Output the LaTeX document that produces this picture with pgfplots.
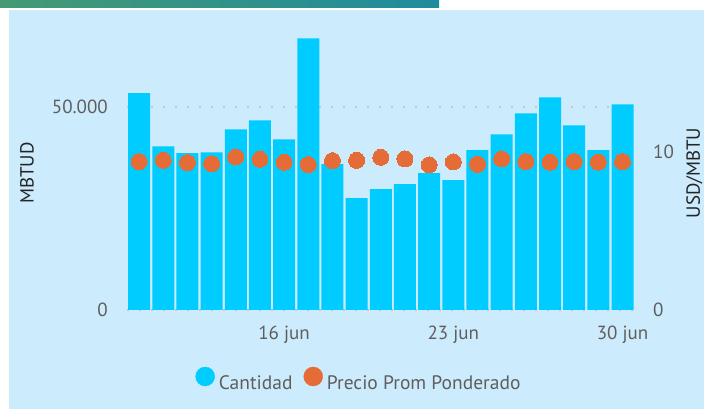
\documentclass[border=0pt]{standalone}
\usepackage{pgfplots}
\usepackage{pgfplotstable}
\pgfplotsset{compat=1.18}
\usepackage{fontspec}
\setmainfont{PT Sans}
\definecolor{panel}{HTML}{CCECFE}
\definecolor{barblue}{HTML}{00CCFF}
\definecolor{dotorange}{HTML}{E66C37}
\definecolor{tickgray}{HTML}{605E5C}
\definecolor{titledark}{HTML}{252423}
\definecolor{gridgray}{HTML}{C4C8CC}
\definecolor{gradA}{HTML}{459A73}
\definecolor{gradB}{HTML}{1F8B9D}

\pgfplotstableread{
x qty price
0 53450 9.37
1 40340 9.45
2 38620 9.31
3 38860 9.24
4 44520 9.66
5 46740 9.52
6 42060 9.33
7 66900 9.18
8 35910 9.43
9 27550 9.45
10 29760 9.64
11 30990 9.54
12 33700 9.16
13 31980 9.35
14 39360 9.20
15 43290 9.54
16 48460 9.37
17 52390 9.33
18 45510 9.37
19 39360 9.33
20 50670 9.37
}\datatable

\begin{document}
\begin{tikzpicture}
\useasboundingbox (0,0) rectangle (704pt,409pt);
\fill[white] (0,0) rectangle (704pt,409pt);
\shade[left color=gradA,right color=gradB] (0,401.5pt) rectangle (439pt,409pt);
\fill[panel] (9pt,0) rectangle (704pt,399pt);

\pgfplotsset{common/.style={at={(127pt,99pt)}, anchor=south west, scale only axis,
  width=507.6pt, height=276pt, xmin=-0.5, xmax=20.5, ymin=0, enlargelimits=false,
  major tick length=0pt, axis line style={draw=none}, scaled y ticks=false,
  tick label style={font=\fontsize{19}{22}\selectfont, text=tickgray, inner sep=0pt},
  /pgf/number format/assume math mode=true}}

\begin{axis}[common, ymax=68000, ybar, bar width=22pt,
  axis x line*=bottom, axis y line*=left,
  xtick={6,13,20}, xticklabels={16 jun,23 jun,30 jun},
  xticklabel style={anchor=base, yshift=-30pt},
  ytick={0,50000}, yticklabels={\mbox{0},\mbox{50.000}},
  yticklabel style={anchor=east, xshift=-19pt},
  ymajorgrids, grid style={gridgray, line width=2pt, dash pattern=on 2pt off 10pt}]
\addplot[fill=barblue, draw=none] table[x=x,y=qty]{\datatable};
\end{axis}

\begin{axis}[common, ymax=17.43, axis x line=none, axis y line*=right,
  ytick={0,10}, yticklabels={\mbox{0},\mbox{10}},
  yticklabel style={anchor=west, xshift=18.4pt},
  legend style={at={(0.455,-0.25)}, anchor=center, draw=none, fill=none,
    font=\fontsize{19.5}{22}\selectfont, text=tickgray, legend columns=2,
    /tikz/every odd column/.append style={column sep=4pt},
    /tikz/every even column/.append style={column sep=11pt},
    nodes={inner sep=0pt}},
  legend cell align=left]
\addlegendimage{legend image code/.code={\fill[barblue] (9.5pt,7pt) circle (9.5pt);}}
\addlegendentry{Cantidad}
\addplot[only marks, color=dotorange, mark=*, mark size=8pt,
  mark options={draw=dotorange, fill=dotorange, line width=0pt},
  legend image code/.code={\fill[dotorange] (9.5pt,7pt) circle (9.5pt);}]
  table[x=x,y=price]{\datatable};
\addlegendentry{Precio Prom Ponderado}
\end{axis}

\node[rotate=90, text=titledark, font=\fontsize{19}{22}\selectfont, inner sep=0pt] at (27pt,236pt) {MBTUD};
\node[rotate=90, text=titledark, font=\fontsize{19}{22}\selectfont, inner sep=0pt] at (694.5pt,236pt) {USD/MBTU};
\end{tikzpicture}
\end{document}
